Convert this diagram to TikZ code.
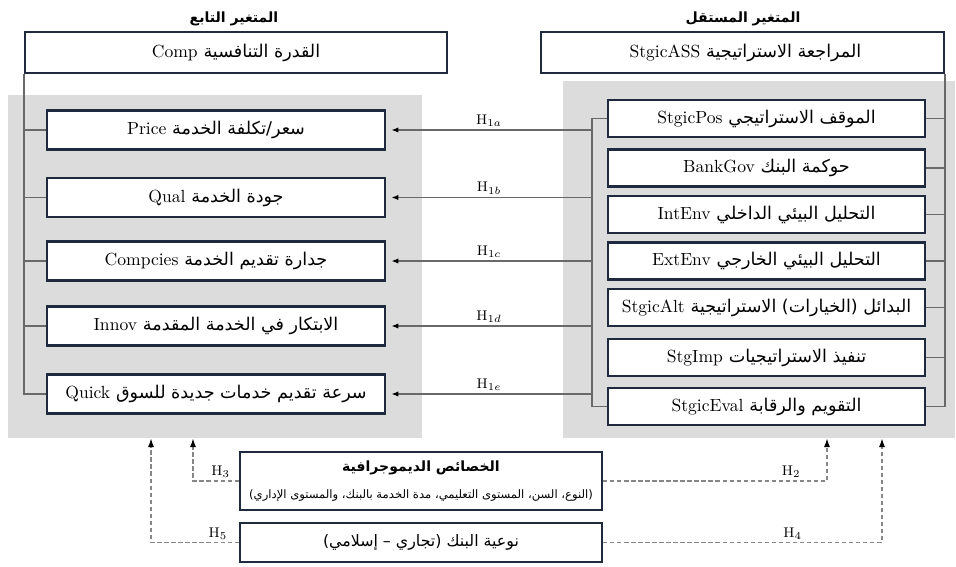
\documentclass[tikz,border=0pt]{standalone}
\usepackage{fontspec}
\usetikzlibrary{arrows,positioning,calc}
\usetikzlibrary{arrows.meta}
\newfontfamily\arabicfont[Script=Arabic]{DejaVu Sans}
\TeXXeTstate=1
\definecolor{panelgray}{RGB}{220,220,220}
\definecolor{boxnavy}{RGB}{32,42,62}
\definecolor{linegray}{RGB}{105,105,105}
\newcommand{\artxt}[1]{{\arabicfont\beginR #1\endR}}
\newcommand{\mixtxt}[2]{\beginR{\arabicfont #1} \beginL #2\endL\endR}

\begin{document}
\begin{tikzpicture}[x=0.02cm,y=-0.02cm,
		panel/.style={fill=panelgray,inner sep=0pt},
		varbox/.style={draw=boxnavy,very thick,fill=white,inner sep=2pt,font=\normalsize},
		depbox/.style={varbox,minimum width=6.76cm,minimum height=0.78cm},
		indbox/.style={varbox,minimum width=6.34cm,minimum height=0.74cm},
		modbox/.style={varbox,minimum width=7.24cm,align=center},
		conn/.style={draw=linegray,thick},
		hyparrow/.style={draw=linegray,thick,-{Latex[length=4pt,width=3pt,color=black]},shorten >=3pt},
		dasharrow/.style={draw=linegray!80,thick,dash pattern=on 2.5pt off 1.5pt,-{Latex[length=5pt,width=3.5pt,color=black]}},
		hlabel/.style={font=\footnotesize,inner sep=1.5pt}]
		
		\useasboundingbox (0,0) rectangle (956,567);
		
		% grey panels
		\node[panel,minimum width=8.28cm,minimum height=6.86cm] (lpanel) at (215,266.5) {};
		\node[panel,minimum width=7.84cm,minimum height=7.14cm] (rpanel) at (759,259.5) {};
		
		% headers and main variables
		\node[font=\footnotesize] (hdep) at (234,19) {\artxt{\bfseries المتغير التابع}};
		\node[font=\footnotesize] (hind) at (743,19) {\artxt{\bfseries المتغير المستقل}};
		\node[varbox,minimum width=8.44cm,minimum height=0.82cm] (comp) at (236,52.5) {\mixtxt{القدرة التنافسية}{Comp}};
		\node[varbox,minimum width=8.06cm,minimum height=0.82cm] (ass) at (742.5,52.5) {\mixtxt{المراجعة الاستراتيجية}{\ StgicASS}};
		
		% dependent dimensions
		\node[depbox] (price) at (216,130) {\mixtxt{سعر/تكلفة الخدمة}{Price}};
		\node[depbox] (qual) at (216,197.5) {\mixtxt{جودة الخدمة}{Qual}};
		\node[depbox] (compc) at (216,261) {\mixtxt{جدارة تقديم الخدمة}{Compcies}};
		\node[depbox] (innov) at (216,326) {\mixtxt{الابتكار في الخدمة المقدمة}{Innov}};
		\node[depbox] (quick) at (216,394) {\mixtxt{سرعة تقديم خدمات جديدة للسوق}{Quick}};
		
		% independent dimensions
		\node[indbox] (pos) at (766.5,118.5) {\mixtxt{الموقف الاستراتيجي}{StgicPos}};
		\node[indbox] (gov) at (766.5,168) {\mixtxt{حوكمة البنك}{BankGov}};
		\node[indbox] (intenv) at (766.5,214.5) {\mixtxt{التحليل البيئي الداخلي}{IntEnv}};
		\node[indbox] (extenv) at (766.5,261) {\mixtxt{التحليل البيئي الخارجي}{ExtEnv}};
		\node[indbox] (alt) at (766.5,307.5) {\mixtxt{البدائل (الخيارات) الاستراتيجية}{StgicAlt}};
		\node[indbox] (imp) at (766.5,357.5) {\mixtxt{تنفيذ الاستراتيجيات}{StgImp}};
		\node[indbox] (eval) at (766.5,406.5) {\mixtxt{التقويم والرقابة}{StgicEval}};
		
		% moderators
		\node[modbox,minimum height=1.16cm] (demo) at (421,481)
		{{\footnotesize\artxt{\bfseries الخصائص الديموجرافية}}\\[3pt]{\fontsize{6.6}{8}\selectfont\artxt{(النوع، السن، المستوى التعليمي، مدة الخدمة بالبنك، والمستوى الإداري)}}};
		\node[modbox,minimum height=0.78cm,font=\small] (btype) at (421,542.5) {\artxt{نوعية البنك (تجاري – إسلامي)}};
		
		% trees
		\draw[conn] (comp.south west) |- (quick.west);
		\foreach \n in {price,qual,compc,innov}
		\draw[conn] (comp.south west |- \n.west) -- (\n.west);
		\draw[conn] (ass.south east) |- (eval.east);
		\foreach \n in {pos,gov,intenv,extenv,alt,imp}
		\draw[conn] (ass.south east |- \n.east) -- (\n.east);
		
		\coordinate (bus) at (592,0);
		\draw[conn] (pos.west) -| (bus |- eval.west) -- (eval.west);
		
		% H1 hypotheses
		\draw[hyparrow] (bus |- price.east) -- (price.east) node[hlabel,midway,above] {H$_{1a}$};
		\draw[hyparrow] (bus |- qual.east) -- (qual.east) node[hlabel,midway,above] {H$_{1b}$};
		\draw[hyparrow] (bus |- compc.east) -- (compc.east) node[hlabel,midway,above] {H$_{1c}$};
		\draw[hyparrow] (bus |- innov.east) -- (innov.east) node[hlabel,midway,above] {H$_{1d}$};
		\draw[hyparrow] (bus |- quick.east) -- (quick.east) node[hlabel,midway,above] {H$_{1e}$};
		
		% moderator hypotheses
		\coordinate (x5) at (151,0);
		\coordinate (x3) at (193,0);
		\coordinate (x2) at (827,0);
		\coordinate (x4) at (882,0);
		\draw[dasharrow] (demo.west) -| (x3 |- lpanel.south) node[hlabel,pos=0.2,above] {H$_3$};
		\draw[dasharrow] (btype.west) -| (x5 |- lpanel.south) node[hlabel,pos=0.12,above] {H$_5$};
		\draw[dasharrow] (demo.east) -| (x2 |- rpanel.south) node[hlabel,pos=0.42,above] {H$_2$};
		\draw[dasharrow] (btype.east) -| (x4 |- rpanel.south) node[hlabel,pos=0.34,above] {H$_4$};
		
\end{tikzpicture}
\end{document}
